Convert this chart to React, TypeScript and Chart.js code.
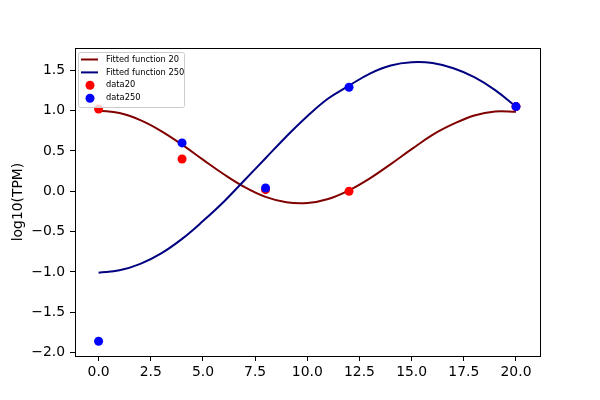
import { useEffect, useRef } from 'react'
import { Chart, registerables } from 'chart.js'
Chart.register(...registerables)

// fitted curves at whole hours
const fitTimes = [0, 1, 2, 3, 4, 5, 6, 7, 8, 9, 10, 11, 12, 13, 14, 15, 16, 17, 18, 19, 20]
const fit20 = [1.0, 0.97, 0.882, 0.747, 0.578, 0.392, 0.211, 0.051, -0.07, -0.137, -0.146, -0.095, 0.012, 0.16, 0.337, 0.522, 0.7, 0.835, 0.94, 0.99, 0.985]
const fit250 = [-1.01, -0.98, -0.9, -0.77, -0.59, -0.37, -0.13, 0.14, 0.41, 0.68, 0.93, 1.15, 1.31, 1.46, 1.56, 1.6, 1.59, 1.525, 1.415, 1.255, 1.05]

// measured points
const sampleTimes = [0, 4, 8, 12, 20]
const data20 = [1.02, 0.4, 0.02, 0.0, 1.05]
const data250 = [-1.86, 0.6, 0.04, 1.29, 1.05]

const xTicks = [0, 2.5, 5, 7.5, 10, 12.5, 15, 17.5, 20]
const xTickLabels = ['0.0', '2.5', '5.0', '7.5', '10.0', '12.5', '15.0', '17.5', '20.0']
const yTicks = [-2, -1.5, -1, -0.5, 0, 0.5, 1, 1.5]
const yTickLabels = ['\u22122.0', '\u22121.5', '\u22121.0', '\u22120.5', '0.0', '0.5', '1.0', '1.5']

const FONT = 'DejaVu Sans'

const frame = {
  id: 'frame',
  afterDatasetsDraw(chart: any) {
    const { ctx, chartArea: a } = chart
    ctx.save()
    ctx.strokeStyle = '#000'
    ctx.lineWidth = 1
    ctx.strokeRect(Math.round(a.left) + 0.5, Math.round(a.top) + 0.5, Math.round(a.right - a.left), Math.round(a.bottom - a.top))
    ctx.restore()
  }
}

const legendBox = {
  id: 'legendBox',
  afterDraw(chart: any) {
    const { ctx, chartArea } = chart
    const x = chartArea.left + 3
    const y = chartArea.top + 4
    ctx.save()
    ctx.beginPath()
    ctx.roundRect(x + 0.5, y + 0.5, 106, 55, 2)
    ctx.fillStyle = 'rgba(255,255,255,0.8)'
    ctx.fill()
    ctx.strokeStyle = '#cccccc'
    ctx.lineWidth = 1
    ctx.stroke()
    ctx.font = `8.3px "${FONT}"`
    ctx.textBaseline = 'middle'
    chart.data.datasets.forEach((ds: any, i: number) => {
      const cy = y + 7.5 + i * 12.9
      if (ds.showLine) {
        ctx.strokeStyle = ds.borderColor
        ctx.lineWidth = 2
        ctx.beginPath()
        ctx.moveTo(x + 3, cy)
        ctx.lineTo(x + 20, cy)
        ctx.stroke()
      } else {
        ctx.fillStyle = ds.backgroundColor
        ctx.beginPath()
        ctx.arc(x + 12, cy, 4.5, 0, Math.PI * 2)
        ctx.fill()
      }
      ctx.fillStyle = '#000'
      ctx.fillText(ds.label, x + 28, cy)
    })
    ctx.restore()
  }
}

export default function App() {
  const ref = useRef<HTMLCanvasElement | null>(null)
  useEffect(() => {
    if (!ref.current) return
    document.body.style.margin = '0'
    const pts = (xs: number[], ys: number[]) => xs.map((x, i) => ({ x, y: ys[i] }))
    const tickFont = { family: FONT, size: 13.9 }
    const chart = new Chart(ref.current, {
      type: 'scatter',
      data: {
        datasets: [
          { label: 'Fitted function 20', data: pts(fitTimes, fit20), showLine: true, borderColor: '#800000', borderWidth: 2, pointRadius: 0, tension: 0.4, order: 4 },
          { label: 'Fitted function 250', data: pts(fitTimes, fit250), showLine: true, borderColor: '#000080', borderWidth: 2, pointRadius: 0, tension: 0.4, order: 3 },
          { label: 'data20', data: pts(sampleTimes, data20), backgroundColor: '#ff0000', borderWidth: 0, pointRadius: 4.5, order: 2 },
          { label: 'data250', data: pts(sampleTimes, data250), backgroundColor: '#0000ff', borderWidth: 0, pointRadius: 4.5, order: 1 }
        ] as any
      },
      options: {
        responsive: false,
        animation: false,
        layout: { padding: { left: 0, top: 48, right: 60, bottom: 0 } },
        plugins: { legend: { display: false }, tooltip: { enabled: false } },
        scales: {
          x: {
            type: 'linear',
            min: -1.13,
            max: 21.15,
            afterBuildTicks: (s: any) => { s.ticks = xTicks.map(value => ({ value })) },
            afterFit: (s: any) => { s.height = 44 },
            ticks: { color: '#000', font: tickFont, padding: 3, maxRotation: 0, autoSkip: false,
              callback: (v: any) => xTickLabels[xTicks.indexOf(Number(v))] },
            grid: { drawOnChartArea: false, drawTicks: true, tickLength: 5, color: '#000' },
            border: { display: false }
          },
          y: {
            type: 'linear',
            min: -2.043,
            max: 1.777,
            afterBuildTicks: (s: any) => { s.ticks = yTicks.map(value => ({ value })) },
            afterFit: (s: any) => { s.width = 75 },
            ticks: { color: '#000', font: tickFont, padding: 5, autoSkip: false,
              callback: (v: any) => yTickLabels[yTicks.indexOf(Number(v))] },
            grid: { drawOnChartArea: false, drawTicks: true, tickLength: 5, color: '#000' },
            border: { display: false },
            title: { display: true, text: 'log10(TPM)', color: '#000', font: tickFont, padding: { top: 10, bottom: 0 } }
          }
        }
      },
      plugins: [frame, legendBox]
    })
    return () => chart.destroy()
  }, [])
  return <canvas ref={ref} width={600} height={400} />
}
